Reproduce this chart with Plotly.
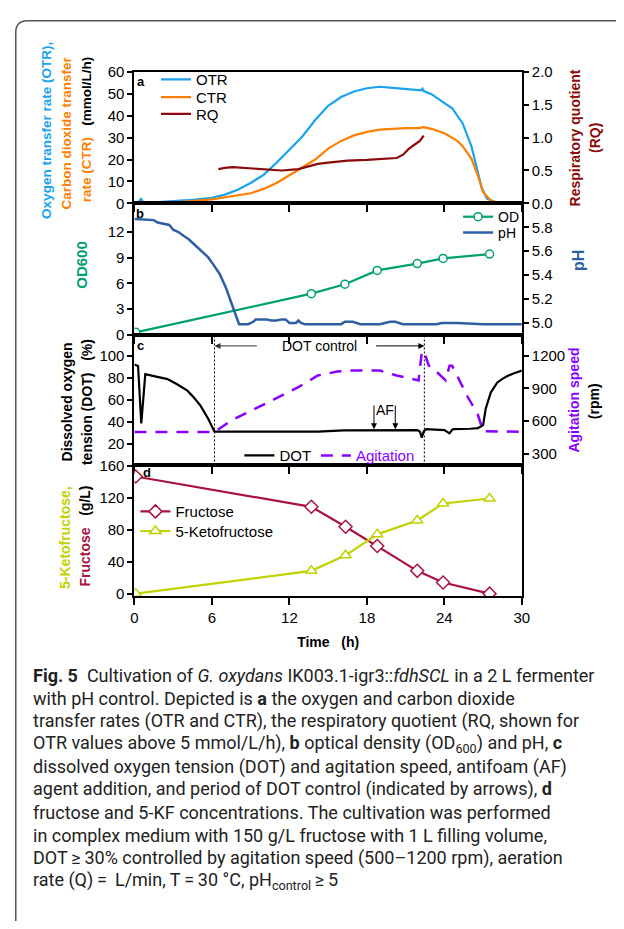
import plotly.graph_objects as go

W, H = 624, 929

# ---------------- data ----------------
# Panel a: OTR / CTR (mmol/L/h), RQ
otr_t = [0, 0.3, 0.5, 0.7, 1.5, 3, 4.5, 6, 7, 8, 9, 10, 11, 12, 13, 14, 15, 16, 17, 18, 19, 20, 21, 22, 22.2, 22.3, 22.4, 23, 24, 24.6, 25.4, 26.1, 26.6, 26.9, 27.3, 28, 28.5, 30]
otr_v = [0, 0.3, 2.0, 0.3, 0.5, 0.9, 1.6, 2.5, 4.0, 6.2, 9.3, 13.0, 18.5, 24.5, 30.5, 38.0, 44.5, 48.5, 51.0, 52.5, 53.2, 52.7, 52.2, 51.6, 51.5, 52.3, 51.2, 49.8, 46.0, 43.4, 36.7, 26.0, 14.0, 7.0, 2.2, 0.4, 0, 0]
ctr_t = [0, 3, 6, 7, 8, 9, 10, 11, 12, 13, 14, 15, 16, 17, 18, 19, 20, 21, 22, 22.4, 23, 24, 25, 25.4, 26.1, 26.6, 27, 27.6, 28.3, 30]
ctr_v = [0, 0.4, 1.8, 2.8, 3.6, 4.6, 6.6, 9.3, 12.8, 16.6, 20.0, 25.0, 28.5, 31.0, 32.6, 33.6, 34.1, 34.3, 34.3, 34.8, 34.0, 32.0, 28.5, 26.2, 20.3, 12.6, 5.1, 1.3, 0, 0]
rq_t = [6.5, 7, 7.6, 8.5, 9.5, 10.2, 11.4, 12.7, 13.5, 14.2, 15, 16.5, 18, 19, 20.3, 20.8, 21.2, 21.6, 22.1, 22.4]
rq_v = [0.52, 0.54, 0.55, 0.54, 0.52, 0.51, 0.50, 0.52, 0.56, 0.60, 0.62, 0.65, 0.66, 0.67, 0.69, 0.74, 0.82, 0.88, 0.95, 1.03]

# Panel b: OD600 and pH
od_t = [0.1, 13.7, 16.3, 18.8, 21.9, 23.9, 27.5]
od_v = [0.3, 4.8, 5.9, 7.5, 8.3, 8.9, 9.4]
ph_t = [0, 1.5, 1.8, 2.7, 3.0, 3.4, 3.8, 4.2, 4.6, 5.0, 5.3, 5.7, 6.1, 6.6, 7.1, 7.6, 8.1, 8.8, 9.2, 9.4, 10.2, 10.6, 11.0, 11.4, 11.7, 12.0, 12.5, 12.7, 12.9, 13.2, 14, 15, 16, 16.3, 16.9, 17.5, 19, 19.8, 20.2, 20.8, 22, 23.4, 23.8, 25, 27, 30]
ph_v = [5.87, 5.86, 5.84, 5.82, 5.78, 5.76, 5.73, 5.70, 5.66, 5.62, 5.59, 5.55, 5.49, 5.41, 5.29, 5.14, 4.99, 4.99, 5.01, 5.03, 5.03, 5.02, 5.02, 5.03, 5.03, 5.00, 5.00, 5.02, 5.00, 4.99, 4.99, 4.99, 4.99, 5.01, 5.01, 4.99, 4.99, 5.01, 5.01, 4.99, 4.99, 4.99, 5.00, 5.00, 4.99, 4.99]

# Panel c: DOT (%) and agitation (rpm)
dot_t = [0, 0.28, 0.53, 0.84, 1.5, 2.56, 3.3, 4.1, 4.6, 5.1, 5.7, 6.2, 8, 10, 12, 14.2, 16.2, 18, 20, 21.9, 22.1, 22.25, 22.4, 22.6, 24.0, 24.2, 24.4, 24.6, 24.7, 26, 26.6, 27.0, 27.2, 27.6, 28.1, 28.5, 28.9, 29.4, 29.9, 30]
dot_v = [92, 90.7, 38.3, 83.2, 81.5, 78.7, 74, 68.2, 62, 54.8, 42.8, 30.8, 30.8, 30.8, 30.8, 30.8, 32.0, 32.3, 32.3, 32.3, 31, 25.4, 31, 33.2, 32.3, 30.5, 29.3, 32.5, 33.2, 33.5, 34.1, 36.8, 51.7, 66.7, 75.7, 79, 81.7, 84, 86.2, 86.5]
agi_t = [0, 6.2, 7.6, 9, 10.2, 11.5, 12.7, 14.2, 15.7, 16.8, 18, 19, 20.3, 21.2, 22.0, 22.25, 22.4, 22.8, 23.5, 24.1, 24.4, 24.6, 25.1, 25.8, 26.6, 27.0, 30]
agi_v = [500, 500, 612, 690, 762, 840, 910, 1017, 1053, 1062, 1065, 1062, 1017, 990, 972, 1227, 1242, 1107, 1040, 972, 1107, 1107, 987, 822, 657, 507, 500]
dot_control = [6.2, 22.45]
af_t = [18.55, 20.2]

# Panel d: fructose and 5-KF (g/L)
conc_t = [0.1, 13.7, 16.35, 18.8, 21.9, 23.9, 27.5]
fru_v = [146.8, 109, 84, 60, 29, 14.4, 0.5]
kf_v = [0.5, 29, 48.4, 74.6, 91.9, 113.2, 119.4]

time_ticks = [0, 6, 12, 18, 24, 30]

# ---------------- colours ----------------
C_OTR = '#1AA3EC'
C_CTR = '#FF8000'
C_RQ = '#8B0A0A'
C_OD = '#00A072'
C_PH = '#2E5FA3'
C_AGI = '#8A00FF'
C_FRU = '#A8133F'
C_KF = '#C2D100'

FONT = 'Liberation Sans, Arial, sans-serif'
CAP_FONT = 'Roboto, sans-serif'


def px(x):
    return x / W


def py(y):
    return 1 - y / H


fig = go.Figure()

fig.add_trace(go.Scatter(x=otr_t, y=otr_v, name='OTR', mode='lines', line=dict(color=C_OTR, width=2.2), xaxis='x', yaxis='y', legend='legend'))
fig.add_trace(go.Scatter(x=ctr_t, y=ctr_v, name='CTR', mode='lines', line=dict(color=C_CTR, width=2.2), xaxis='x', yaxis='y', legend='legend5'))
fig.add_trace(go.Scatter(x=rq_t, y=rq_v, name='RQ', mode='lines', line=dict(color=C_RQ, width=2.2), xaxis='x', yaxis='y2', legend='legend6'))

fig.add_trace(go.Scatter(x=od_t, y=od_v, name='OD', mode='lines+markers', line=dict(color=C_OD, width=2.2),
                         marker=dict(symbol='circle', size=8, color='white', line=dict(color=C_OD, width=1.5)),
                         xaxis='x2', yaxis='y3', legend='legend2'))
fig.add_trace(go.Scatter(x=ph_t, y=ph_v, name='pH', mode='lines', line=dict(color=C_PH, width=2.5), xaxis='x2', yaxis='y4', legend='legend7'))

fig.add_trace(go.Scatter(x=dot_t, y=dot_v, name='DOT', mode='lines', line=dict(color='black', width=2.2), xaxis='x3', yaxis='y5', legend='legend3'))
fig.add_trace(go.Scatter(x=agi_t, y=agi_v, name="<span style='color:%s'>Agitation</span>" % C_AGI, mode='lines',
                         line=dict(color=C_AGI, width=2.5, dash='12px,9px'), xaxis='x3', yaxis='y6', legend='legend9'))

fig.add_trace(go.Scatter(x=conc_t, y=fru_v, name='Fructose', mode='lines+markers', line=dict(color=C_FRU, width=2.2),
                         marker=dict(symbol='diamond', size=10, color='white', line=dict(color=C_FRU, width=1.5)),
                         xaxis='x4', yaxis='y7', legend='legend4'))
fig.add_trace(go.Scatter(x=conc_t, y=kf_v, name='5-Ketofructose', mode='lines+markers', line=dict(color=C_KF, width=2.2),
                         marker=dict(symbol='triangle-up', size=10, color='white', line=dict(color=C_KF, width=1.5)),
                         xaxis='x4', yaxis='y7', legend='legend8'))

dom_x = [px(133), px(528)]


def ydom(top, bot):
    return [py(bot), py(top)]


tickfont = dict(family=FONT, size=15, color='black')
base = dict(showline=True, linecolor='black', linewidth=2, ticks='outside', tickcolor='black', tickwidth=1.5,
            showgrid=False, zeroline=False, tickfont=tickfont)

xbase = dict(base, domain=dom_x, range=[0, 30], tickvals=time_ticks, ticklen=7, mirror=True)


def leg(x, y, size=15):
    return dict(x=px(x), y=py(y), xanchor='left', yanchor='middle', bgcolor='rgba(0,0,0,0)',
                font=dict(family=FONT, size=size, color='black'), tracegroupgap=0)


layout = dict(
    width=W, height=H, margin=dict(l=0, r=0, t=0, b=0),
    paper_bgcolor='white', plot_bgcolor='white',
    font=dict(family=FONT, size=15, color='black'),
    xaxis=dict(xbase, anchor='y', showticklabels=False),
    xaxis2=dict(xbase, anchor='y3', showticklabels=False),
    xaxis3=dict(xbase, anchor='y5', showticklabels=False),
    xaxis4=dict(xbase, anchor='y7', showticklabels=True,
                title=dict(text='<b>Time\u00a0\u00a0\u00a0(h)</b>', font=dict(family=FONT, size=14), standoff=12)),
    yaxis=dict(base, domain=ydom(64, 198), anchor='x', range=[0, 60], tickvals=[0, 10, 20, 30, 40, 50, 60], ticklen=5, mirror=True),
    yaxis2=dict(base, overlaying='y', side='right', anchor='x', range=[0, 2.0], tickvals=[0, 0.5, 1.0, 1.5, 2.0], tickformat='.1f', ticklen=5),
    yaxis3=dict(base, domain=ydom(198, 332), anchor='x2', range=[0, 15.3], tickvals=[0, 3, 6, 9, 12], ticklen=5, mirror=True),
    yaxis4=dict(base, overlaying='y3', side='right', anchor='x2', range=[4.9, 6.0], tickvals=[5.0, 5.2, 5.4, 5.6, 5.8], tickformat='.1f', ticklen=5),
    yaxis5=dict(base, domain=ydom(332, 465), anchor='x3', range=[0, 119], tickvals=[20, 40, 60, 80, 100], ticklen=5, mirror=True),
    yaxis6=dict(base, overlaying='y5', side='right', anchor='x3', range=[192, 1389], tickvals=[300, 600, 900, 1200], ticklen=5),
    yaxis7=dict(base, domain=ydom(465, 598), anchor='x4', range=[-2.5, 160.6], tickvals=[0, 40, 80, 120, 160], ticklen=5, mirror=True),
    legend=leg(155, 72),
    legend5=leg(155, 90),
    legend6=leg(155, 107),
    legend2=leg(463, 212, 14),
    legend7=leg(463, 228, 14),
    legend3=leg(240, 455),
    legend9=leg(318, 455),
    legend4=leg(134, 512),
    legend8=leg(134, 532),
    showlegend=True,
)
fig.update_layout(**layout)

ann = []


def vtext(x, y, text, size=13.5):
    ann.append(dict(x=px(x), y=py(y), xref='paper', yref='paper', text=text, textangle=-90, showarrow=False,
                    xanchor='center', yanchor='middle', font=dict(family=FONT, size=size, color='black')))


def span(text, color):
    return "<span style='color:%s'>%s</span>" % (color, text)


NB = '\u00a0'
# panel a titles
vtext(44, 124, '<b>' + span('Oxygen transfer rate (OTR),', C_OTR) + '</b>')
vtext(64, 126, '<b>' + span('Carbon dioxide transfer', C_CTR) + '</b>')
vtext(84, 122, '<b>' + span('rate (CTR)', C_CTR) + NB * 3 + '(mmol/L/h)</b>')
vtext(582, 131, '<b>' + span('Respiratory quotient', C_RQ) + '</b>', 14)
vtext(602, 131, '<b>' + span('(RQ)', C_RQ) + '</b>', 14)
# panel b
vtext(79, 260, '<b>' + span('OD600', C_OD) + '</b>', 15)
vtext(586, 256, '<b>' + span('pH', C_PH) + '</b>', 16)
# panel c
vtext(64, 400, '<b>Dissolved oxygen</b>', 14)
vtext(84, 400, '<b>tension (DOT)' + NB * 3 + '(%)</b>', 14)
vtext(581, 398, '<b>' + span('Agitation speed', C_AGI) + '</b>', 14)
vtext(601, 399, '<b>(rpm)</b>', 14)
# panel d
vtext(62, 538, '<b>' + span('5-Ketofructose,', C_KF) + '</b>', 14)
vtext(83, 537, '<b>' + span('Fructose', C_FRU) + NB * 3 + '(g/L)</b>', 14)

# panel letters
for lx, ly, lt in [(140, 74, 'a'), (139, 208, 'b'), (139, 343, 'c'), (146, 472, 'd')]:
    ann.append(dict(x=px(lx), y=py(ly), xref='paper', yref='paper', text='<b>%s</b>' % lt, showarrow=False,
                    xanchor='center', yanchor='middle', font=dict(family=FONT, size=13, color='black')))

# DOT control annotation
ann.append(dict(x=px(322), y=py(343), xref='paper', yref='paper', text='DOT control', showarrow=False,
                xanchor='center', yanchor='middle', font=dict(family=FONT, size=14, color='black')))
ann.append(dict(x=dot_control[0], y=109, xref='x3', yref='y5', ax=9.6, ay=109, axref='x3', ayref='y5', text='',
                showarrow=True, arrowhead=2, arrowsize=1.2, arrowwidth=1, arrowcolor='#333'))
ann.append(dict(x=dot_control[1], y=109, xref='x3', yref='y5', ax=18.6, ay=109, axref='x3', ayref='y5', text='',
                showarrow=True, arrowhead=2, arrowsize=1.2, arrowwidth=1, arrowcolor='black'))
# AF arrows
for t in af_t:
    ann.append(dict(x=t, y=33, xref='x3', yref='y5', ax=t, ay=56, axref='x3', ayref='y5', text='',
                    showarrow=True, arrowhead=2, arrowsize=1.2, arrowwidth=1, arrowcolor='black'))
ann.append(dict(x=(af_t[0] + af_t[1]) / 2, y=50.5, xref='x3', yref='y5', text='AF', showarrow=False,
                xanchor='center', yanchor='middle', font=dict(family=FONT, size=14, color='black')))

# caption
caption = [
    "<b>Fig. 5</b>" + NB * 2 + "Cultivation of <i>G. oxydans</i> IK003.1-igr3::<i>fdhSCL</i> in a 2 L fermenter",
    "with pH control. Depicted is <b>a</b> the oxygen and carbon dioxide",
    "transfer rates (OTR and CTR), the respiratory quotient (RQ, shown for",
    "OTR values above 5 mmol/L/h), <b>b</b> optical density (OD<sub>600</sub>) and pH, <b>c</b>",
    "dissolved oxygen tension (DOT) and agitation speed, antifoam (AF)",
    "agent addition, and period of DOT control (indicated by arrows), <b>d</b>",
    "fructose and 5-KF concentrations. The cultivation was performed",
    "in complex medium with 150 g/L fructose with 1 L filling volume,",
    "DOT\u2009\u2265\u200930% controlled by agitation speed (500\u20131200 rpm), aeration",
    "rate (Q)\u2009=\u2009 L/min, T\u2009=\u200930 \u00b0C, pH<sub>control</sub>\u2009\u2265\u20095",
]
for i, line in enumerate(caption):
    ann.append(dict(x=px(28), y=py(679 + 23.2 * i), xref='paper', yref='paper', text=line, showarrow=False,
                    xanchor='left', yanchor='middle', align='left',
                    font=dict(family=CAP_FONT, size=18, color='#222')))

fig.update_layout(annotations=ann)

# vertical dotted lines marking DOT control period
shapes = []
for t in dot_control:
    shapes.append(dict(type='line', xref='x3', yref='y5 domain', x0=t, x1=t, y0=0, y1=1,
                       line=dict(color='black', width=1, dash='2px,2px')))
# rounded frame
frame = 'M %f,%f L %f,%f Q %f,%f %f,%f L %f,%f' % (px(12), py(929), px(12), py(24), px(12), py(12), px(24), py(12), px(624), py(12))
shapes.append(dict(type='path', xref='paper', yref='paper', path=frame, line=dict(color='#555', width=1.5)))
fig.update_layout(shapes=shapes)

fig.write_html('out.html')
